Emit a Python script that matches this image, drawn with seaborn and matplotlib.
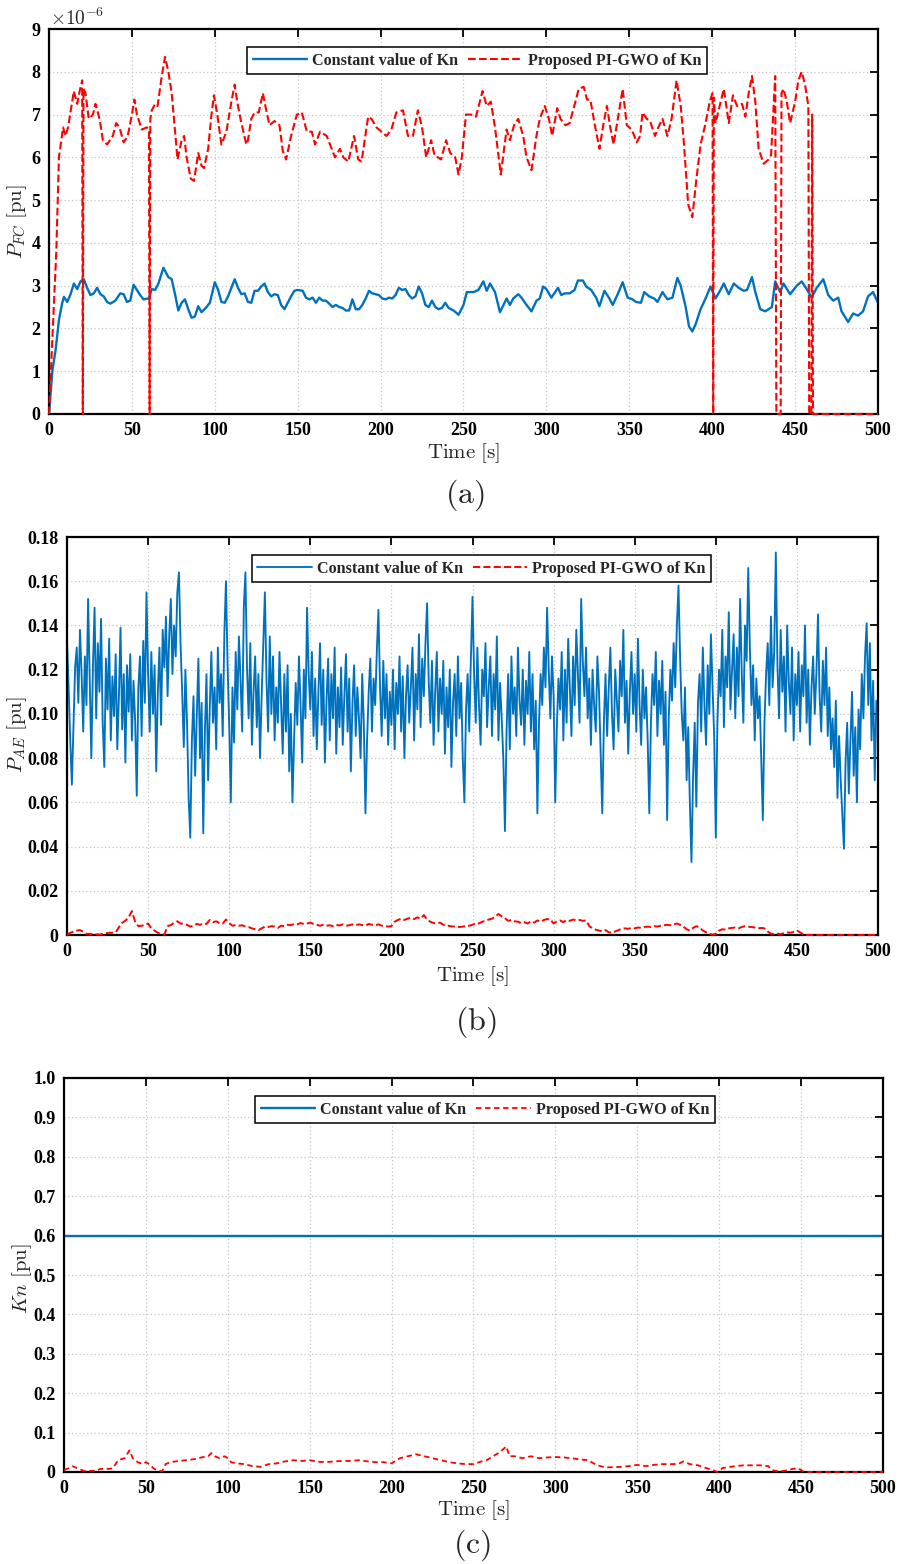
import numpy as np
import matplotlib
matplotlib.use("Agg")
import matplotlib.pyplot as plt
import seaborn as sns

# ---------------- data ----------------
x_ticks = [0, 50, 100, 150, 200, 250, 300, 350, 400, 450, 500]
legend_labels = ["Constant value of Kn", "Proposed PI-GWO of Kn"]

# (a) P_FC, values in units of 1e-6 pu
fc_const_t = [0, 1, 2, 4, 6, 8, 9, 11, 13, 15,
              17, 19, 21, 23, 25, 27, 29, 31, 33, 35,
              37, 40, 43, 45, 47, 49, 51, 53, 55, 57,
              60, 62, 64, 66, 69, 72, 74, 76, 78, 80,
              82, 84, 86, 88, 90, 92, 95, 97, 100, 102,
              104, 106, 108, 110, 112, 114, 116, 118, 120, 122,
              124, 126, 128, 130, 132, 134, 136, 138, 140, 142,
              144, 146, 148, 150, 153, 155, 157, 159, 161, 163,
              165, 167, 169, 171, 173, 175, 177, 179, 181, 183,
              185, 187, 189, 191, 193, 195, 197, 199, 201, 203,
              205, 207, 209, 211, 213, 215, 217, 219, 221, 223,
              225, 227, 229, 231, 233, 235, 237, 239, 241, 244,
              247, 250, 252, 256, 259, 262, 264, 266, 269, 272,
              276, 278, 280, 283, 285, 288, 291, 294, 296, 298,
              300, 303, 307, 309, 311, 314, 317, 319, 322, 324,
              327, 330, 332, 335, 338, 340, 343, 346, 349, 352,
              354, 357, 359, 362, 365, 367, 370, 373, 376, 379,
              381, 384, 386, 388, 390, 393, 396, 399, 402, 405,
              407, 410, 413, 416, 419, 421, 424, 426, 429, 432,
              436, 438, 441, 443, 447, 451, 454, 457, 460, 463,
              467, 470, 473, 476, 478, 482, 485, 488, 491, 494,
              497, 500]
fc_const_v = [0, 0.5, 1.0, 1.5, 2.2, 2.6, 2.74, 2.62, 2.8, 3.05,
              2.92, 3.1, 3.15, 2.95, 2.78, 2.82, 2.95, 2.8, 2.75, 2.62,
              2.58, 2.65, 2.82, 2.8, 2.62, 2.65, 3.02, 2.9, 2.78, 2.68,
              2.7, 2.92, 2.9, 3.05, 3.42, 3.2, 3.15, 2.8, 2.42, 2.6,
              2.68, 2.45, 2.25, 2.28, 2.52, 2.38, 2.5, 2.6, 3.08, 2.9,
              2.62, 2.6, 2.75, 2.95, 3.15, 2.95, 2.8, 2.82, 2.62, 2.6,
              2.88, 2.88, 2.98, 3.05, 2.85, 2.75, 2.8, 2.78, 2.55, 2.45,
              2.6, 2.75, 2.88, 2.9, 2.88, 2.72, 2.68, 2.72, 2.6, 2.72,
              2.65, 2.65, 2.58, 2.5, 2.55, 2.5, 2.48, 2.42, 2.42, 2.68,
              2.45, 2.45, 2.55, 2.7, 2.88, 2.82, 2.8, 2.78, 2.7, 2.68,
              2.72, 2.7, 2.78, 2.95, 2.9, 2.92, 2.78, 2.7, 2.75, 2.98,
              2.82, 2.55, 2.5, 2.65, 2.5, 2.45, 2.48, 2.6, 2.48, 2.42,
              2.32, 2.55, 2.85, 2.85, 2.9, 3.1, 2.88, 3.05, 2.85, 2.38,
              2.7, 2.55, 2.7, 2.8, 2.72, 2.55, 2.4, 2.65, 2.7, 2.98,
              2.92, 2.72, 2.95, 2.78, 2.82, 2.82, 2.9, 3.12, 3.12, 2.98,
              2.9, 2.72, 2.52, 2.88, 2.7, 2.55, 2.8, 3.08, 2.72, 2.68,
              2.62, 2.6, 2.85, 2.75, 2.7, 2.62, 2.85, 2.68, 2.72, 3.18,
              3.0, 2.5, 2.05, 1.93, 2.1, 2.45, 2.7, 2.98, 2.7, 2.9,
              3.05, 2.8, 3.05, 2.95, 2.88, 2.9, 3.2, 2.85, 2.45, 2.4,
              2.5, 3.1, 2.85, 3.05, 2.8, 3.0, 3.1, 2.92, 2.72, 2.95,
              3.15, 2.78, 2.65, 2.72, 2.4, 2.15, 2.35, 2.3, 2.4, 2.75,
              2.85, 2.6]

fc_pigwo_t = [0, 4.4, 6, 8.5, 10, 11.5, 15, 17, 18.5, 20,
              20.4, 20.8, 22, 24, 26.5, 28, 30.5, 32.5, 35, 38.5,
              40.5, 42.5, 45, 47.5, 50, 51.5, 53, 56, 59, 60.3,
              60.7, 61.1, 62, 64, 65.5, 68, 70, 72, 74, 76,
              77.5, 80, 81.5, 83, 85.5, 87.5, 90, 92, 93.5, 96,
              98, 99.5, 101.5, 104, 107, 110, 112, 113.5, 115.5, 119,
              120, 122, 124, 126.5, 129, 131, 133, 136, 139, 141,
              143, 146, 149.5, 152.5, 155.5, 158.5, 160.5, 163.5, 167.5, 170.5,
              172.5, 175.5, 177.5, 180.5, 184, 186.5, 188.5, 192.5, 194.5, 197.5,
              200.5, 203.5, 206.5, 209.5, 213.5, 216.5, 219.5, 222.5, 225, 227.5,
              230.5, 232.5, 236.5, 239.5, 242, 245, 247, 249, 251.5, 254.5,
              257.5, 261.5, 264, 266.5, 269, 272.5, 276, 278, 280.5, 283,
              286, 288, 291, 294, 296, 299, 301.5, 303.5, 306.5, 308.5,
              311.5, 314, 317.5, 319.5, 322.5, 324.5, 326.5, 329, 332, 334.5,
              336.5, 338.5, 340.5, 343.5, 346, 348.5, 351.5, 354.5, 356.5, 358,
              360.5, 362.5, 365.5, 367.5, 370, 373, 375.5, 378.5, 381, 383,
              385.5, 388, 390.5, 393, 396, 398.5, 400.2, 400.6, 401, 402,
              404.5, 407, 410, 412.5, 415, 418, 420, 422, 424, 426,
              428, 431, 434, 435.5, 438, 438.7, 441.3, 441.8, 443, 445,
              447, 450, 452, 454, 456, 458, 458.5, 459.8, 460.3, 460.8,
              500]
fc_pigwo_v = [0, 3.8, 6.0, 6.7, 6.5, 6.7, 7.55, 7.25, 7.55, 7.8,
              0, 7.6, 7.5, 6.9, 7.0, 7.25, 6.9, 6.4, 6.3, 6.5,
              6.8, 6.7, 6.35, 6.5, 7.0, 7.35, 7.0, 6.65, 6.7, 6.65,
              0, 6.9, 7.1, 7.25, 7.2, 7.9, 8.35, 8.0, 7.5, 6.6,
              5.95, 6.4, 6.5, 6.0, 5.5, 5.45, 6.1, 5.8, 5.75, 6.2,
              7.0, 7.45, 7.0, 6.3, 6.6, 7.3, 7.7, 7.3, 6.9, 6.3,
              6.4, 6.9, 7.05, 7.05, 7.5, 7.1, 6.75, 6.85, 6.75, 6.15,
              5.95, 6.5, 7.0, 7.05, 6.6, 6.6, 6.3, 6.6, 6.5, 6.2,
              6.0, 6.2, 6.0, 5.9, 6.5, 5.95, 5.9, 6.95, 6.9, 6.7,
              6.6, 6.5, 6.65, 7.05, 7.1, 6.5, 6.5, 7.1, 6.7, 6.0,
              6.4, 6.05, 5.95, 6.4, 6.1, 6.0, 5.6, 6.0, 7.0, 7.0,
              6.95, 7.55, 7.2, 7.3, 6.7, 5.6, 6.65, 6.4, 6.75, 6.9,
              6.5, 6.0, 5.7, 6.5, 6.9, 7.2, 6.9, 6.5, 7.15, 6.9,
              6.75, 6.8, 7.3, 7.6, 7.65, 7.35, 7.35, 6.8, 6.2, 6.8,
              7.2, 6.7, 6.3, 7.0, 7.6, 6.75, 6.65, 6.35, 6.5, 7.05,
              6.9, 6.85, 6.5, 6.7, 6.9, 6.5, 6.9, 7.8, 7.2, 6.3,
              4.9, 4.6, 5.5, 6.3, 6.8, 7.3, 7.5, 0, 7.4, 6.8,
              7.2, 7.6, 6.8, 7.45, 7.2, 7.25, 6.95, 7.5, 7.9, 7.3,
              6.2, 5.85, 5.95, 6.05, 7.9, 0, 0, 7.5, 7.6, 7.3,
              6.8, 7.3, 7.8, 8.0, 7.7, 7.2, 0, 0, 7.0, 0,
              0]

# (b) P_AE, 1-s samples, values in units of 1e-3 pu
pae_const = [133, 112, 88, 68, 95, 121, 130, 105, 138, 118,
             92, 126, 104, 152, 115, 80, 122, 148, 98, 132,
             110, 143, 96, 76, 125, 102, 134, 88, 117, 99,
             127, 84, 108, 139, 93, 118, 78, 122, 101, 127,
             88, 115, 97, 63, 112, 126, 90, 133, 105, 155,
             118, 92, 128, 100, 122, 74, 110, 130, 95, 138,
             121, 144, 108, 135, 152, 118, 140, 126, 155, 164,
             132, 110, 85, 120, 96, 62, 44, 88, 108, 72,
             98, 125, 80, 105, 46, 92, 118, 70, 102, 128,
             96, 112, 84, 130, 105, 118, 90, 136, 160, 122,
             95, 60, 112, 87, 128, 102, 135, 115, 92, 148,
             164, 120, 98, 132, 86, 110, 126, 94, 118, 80,
             108, 132, 155, 115, 92, 135, 100, 126, 88, 112,
             96, 128, 104, 82, 118, 92, 122, 74, 100, 60,
             88, 114, 95, 126, 104, 78, 120, 98, 148, 118,
             102, 128, 90, 116, 84, 110, 132, 95, 120, 78,
             106, 125, 88, 118, 98, 130, 82, 112, 94, 121,
             86, 108, 127, 92, 116, 74, 105, 122, 90, 112,
             98, 80, 118, 95, 55, 88, 110, 125, 92, 116,
             104, 128, 147, 112, 90, 124, 98, 118, 86, 110,
             95, 120, 84, 114, 100, 126, 92, 117, 80, 108,
             122, 96, 112, 130, 88, 118, 102, 136, 94, 125,
             108, 132, 150, 115, 96, 124, 86, 110, 128, 92,
             116, 100, 124, 82, 112, 94, 120, 76, 105, 118,
             90, 126, 98, 114, 80, 60, 102, 118, 92, 125,
             153, 118, 96, 130, 104, 86, 120, 108, 132, 94,
             112, 126, 90, 118, 102, 135, 88, 114, 98, 80,
             47, 92, 118, 84, 126, 100, 112, 90, 130, 106,
             95, 120, 86, 115, 100, 128, 92, 118, 84, 106,
             55, 96, 118, 104, 130, 112, 148, 120, 98, 126,
             108, 60, 94, 116, 102, 128, 88, 120, 96, 134,
             112, 90, 126, 104, 138, 118, 96, 152, 124, 108,
             130, 98, 116, 86, 120, 104, 92, 126, 110, 82,
             55, 96, 118, 90, 112, 130, 100, 84, 120, 106,
             92, 124, 108, 138, 96, 115, 82, 110, 128, 100,
             118, 92, 134, 104, 86, 120, 98, 112, 88, 55,
             96, 118, 104, 128, 90, 115, 100, 124, 86, 110,
             52, 98, 120, 106, 132, 112, 140, 158, 125, 100,
             88, 112, 70, 94, 60, 33, 72, 96, 58, 105,
             118, 92, 130, 104, 86, 122, 100, 136, 112, 90,
             44, 96, 120, 108, 138, 94, 126, 112, 146, 102,
             120, 136, 98, 130, 108, 152, 118, 96, 140, 124,
             166, 130, 104, 122, 88, 116, 98, 108, 80, 52,
             96, 118, 132, 104, 144, 112, 128, 173, 122, 98,
             138, 110, 126, 92, 140, 115, 100, 130, 88, 118,
             104, 128, 92, 122, 108, 140, 96, 120, 86, 112,
             126, 100, 118, 145, 108, 92, 124, 104, 130, 90,
             112, 84, 98, 76, 106, 62, 90, 70, 54, 39,
             78, 96, 64, 88, 110, 72, 94, 60, 102, 84,
             118, 98, 126, 141, 104, 132, 88, 115, 70, 106,
             98]

# (b) P_AE PI-GWO, 2-s samples, units of 1e-3 pu
pae_pigwo = [0, 1.0, 1.5, 2.0, 2.2, 1.5, 0.5, 0.5, 0.3, 0.3,
             0.2, 0.5, 0.8, 1.0, 1.0, 1.2, 3.5, 5.5, 6.5, 8.0,
             10.8, 6.0, 4.0, 4.2, 4.5, 5.2, 3.0, 2.0, 1.0, 0.5,
             0.2, 4.0, 4.5, 5.5, 6.2, 5.2, 5.0, 4.6, 3.8, 4.2,
             5.0, 4.6, 5.2, 5.0, 6.8, 5.8, 6.2, 5.4, 5.2, 7.0,
             5.4, 4.2, 4.5, 4.2, 4.4, 3.8, 3.6, 3.0, 2.6, 2.2,
             3.0, 3.8, 3.6, 4.0, 3.8, 3.2, 4.2, 4.0, 4.6, 4.4,
             5.0, 4.8, 5.4, 5.0, 5.2, 5.6, 5.0, 4.6, 4.2, 4.6,
             4.2, 4.4, 4.0, 4.6, 4.3, 4.8, 4.2, 4.4, 4.8, 4.4,
             4.8, 4.5, 4.2, 5.0, 4.6, 4.4, 4.8, 4.2, 4.0, 3.8,
             4.0, 6.0, 6.8, 7.4, 6.8, 7.4, 7.8, 7.2, 8.0, 7.4,
             9.0, 7.0, 6.0, 5.4, 5.2, 5.6, 4.6, 4.4, 4.0, 3.8,
             4.0, 3.6, 3.8, 4.0, 4.2, 4.6, 5.4, 5.2, 6.0, 6.4,
             7.0, 7.4, 8.2, 9.5, 8.4, 7.6, 6.4, 6.8, 6.2, 6.0,
             5.4, 5.8, 5.2, 6.2, 5.6, 6.6, 6.0, 6.8, 7.2, 7.0,
             5.2, 6.2, 6.6, 5.8, 6.8, 6.4, 7.0, 6.6, 6.8, 6.4,
             6.6, 4.0, 3.0, 2.4, 2.0, 1.6, 2.2, 1.2, 1.0, 1.6,
             2.2, 2.8, 3.0, 2.8, 3.2, 3.0, 3.4, 3.2, 3.6, 3.8,
             3.6, 4.0, 3.8, 4.2, 4.4, 4.6, 4.4, 4.8, 5.2, 4.6,
             3.8, 2.6, 2.0, 3.2, 4.0, 3.4, 2.0, 1.2, 0.5, 0.2,
             0.5, 2.0, 2.6, 2.4, 3.0, 3.2, 3.4, 3.0, 3.6, 4.0,
             3.8, 3.6, 3.4, 3.0, 3.2, 3.0, 1.6, 0.6, 0.4, 0.6,
             0.4, 0.8, 1.2, 1.0, 1.4, 2.0, 1.2, 0.2, 0.0, 0.0,
             0, 0, 0, 0, 0, 0, 0, 0, 0, 0,
             0, 0, 0, 0, 0, 0, 0, 0, 0, 0,
             0]

# (c) Kn
kn_const = 0.6
kn_t = [0, 3, 5, 8, 12, 16, 20, 22, 28, 30,
        33, 37, 40, 42, 45, 48, 50, 52, 55, 58,
        60, 62, 65, 70, 75, 80, 85, 88, 90, 92,
        95, 98, 100, 102, 105, 110, 115, 120, 125, 130,
        135, 140, 145, 150, 155, 160, 165, 170, 175, 180,
        185, 190, 195, 200, 205, 210, 215, 220, 225, 230,
        235, 240, 245, 250, 255, 258, 262, 266, 270, 272,
        275, 280, 285, 290, 295, 300, 305, 310, 315, 320,
        325, 330, 335, 340, 345, 350, 355, 360, 365, 370,
        375, 378, 382, 387, 392, 396, 399, 402, 405, 410,
        415, 420, 425, 430, 432, 436, 440, 445, 448, 451,
        455, 460, 500]
kn_v = [0.005, 0.010, 0.015, 0.010, 0.003, 0.003, 0.003, 0.008, 0.008, 0.010,
        0.030, 0.035, 0.055, 0.035, 0.025, 0.020, 0.025, 0.020, 0.008, 0.003,
        0.002, 0.020, 0.025, 0.028, 0.030, 0.033, 0.038, 0.040, 0.048, 0.040,
        0.035, 0.040, 0.035, 0.025, 0.022, 0.020, 0.015, 0.013, 0.020, 0.022,
        0.027, 0.030, 0.028, 0.030, 0.026, 0.025, 0.027, 0.028, 0.028, 0.030,
        0.027, 0.025, 0.025, 0.022, 0.035, 0.040, 0.045, 0.040, 0.035, 0.030,
        0.025, 0.022, 0.020, 0.020, 0.027, 0.030, 0.040, 0.050, 0.065, 0.040,
        0.040, 0.035, 0.040, 0.035, 0.037, 0.038, 0.037, 0.035, 0.032, 0.030,
        0.018, 0.012, 0.012, 0.013, 0.015, 0.018, 0.015, 0.018, 0.020, 0.020,
        0.020, 0.027, 0.020, 0.017, 0.010, 0.005, 0.000, 0.010, 0.012, 0.015,
        0.017, 0.017, 0.017, 0.015, 0.005, 0.002, 0.003, 0.008, 0.010, 0.002,
        0.000, 0.000, 0.000]

# ---------------- style ----------------
sns.set_theme(style="white")
plt.rcParams['font.family'] = ['Liberation Serif', 'DejaVu Serif']
plt.rcParams['mathtext.fontset'] = 'cm'
plt.rcParams['axes.unicode_minus'] = False

BLUE = '#0072BD'
RED = '#FF0000'
TICK_FS = 13
LABEL_FS = 15

fig = plt.figure(figsize=(9.03, 15.64), dpi=100)
W, H = 903.0, 1564.0


def make_axes(l, t, r, b):
    return fig.add_axes([l / W, 1 - b / H, (r - l) / W, (b - t) / H])


def style(ax, yticks, ylabels, ylim):
    ax.set_xlim(0, 500)
    ax.set_ylim(*ylim)
    ax.set_xticks(x_ticks)
    ax.set_xticklabels([str(v) for v in x_ticks])
    ax.set_yticks(yticks)
    ax.set_yticklabels(ylabels)
    ax.tick_params(direction='in', length=6, width=1.3, top=True, right=True,
                   labelsize=TICK_FS, pad=6, colors='black')
    for lab in ax.get_xticklabels() + ax.get_yticklabels():
        lab.set_fontweight('bold')
    ax.grid(True, linestyle=(0, (1, 2)), color='#c4c4c4', linewidth=0.9)
    for s in ax.spines.values():
        s.set_linewidth(1.6)
        s.set_color('black')
    ax.set_xlabel(r'$\mathrm{Time\ [s]}$', fontsize=LABEL_FS)


def legend(ax, cx, top):
    leg = ax.legend(loc='upper center', bbox_to_anchor=(cx, top), ncol=2,
                    frameon=True, fancybox=False, edgecolor='black', framealpha=1,
                    prop={'family': 'Liberation Serif', 'weight': 'bold', 'size': 11.6},
                    handlelength=3.4, columnspacing=0.6, handletextpad=0.3,
                    borderpad=0.35, borderaxespad=0)
    leg.get_frame().set_linewidth(1.1)
    leg.set_zorder(5)


def red_on_top(ax):
    # dashed red series sits above the axis frame, as in the original
    ax.lines[-1].set_zorder(3)
    ax.lines[-1].set_clip_on(False)


# ---------- (a) ----------
ax = make_axes(49, 29, 878, 414)
sns.lineplot(x=fc_const_t, y=fc_const_v, ax=ax, color=BLUE, lw=1.7,
             estimator=None, sort=False, label=legend_labels[0])
sns.lineplot(x=fc_pigwo_t, y=fc_pigwo_v, ax=ax, color=RED, lw=1.5, linestyle='--',
             estimator=None, sort=False, label=legend_labels[1])
red_on_top(ax)
style(ax, list(range(0, 10)), [str(v) for v in range(0, 10)], (0, 9))
ax.set_ylabel(r'$P_{FC}\ [\mathrm{pu}]$', fontsize=LABEL_FS)
ax.yaxis.set_label_coords((17 - 49) / 829, 0.5)
ax.xaxis.set_label_coords(0.5, (414 - 453) / 385)
ax.yaxis.label.set_va('center')
ax.xaxis.label.set_va('center')
legend(ax, 0.516, 0.953)
fig.text(50 / W, 1 - 25 / H, r'$\times10^{-6}$', fontsize=14, ha='left', va='baseline')

# ---------- (b) ----------
ax = make_axes(67, 537, 878, 935)
t_b = np.arange(0, 501)
t_b2 = np.arange(0, 501, 2)
sns.lineplot(x=t_b, y=np.array(pae_const) / 1000.0, ax=ax, color=BLUE, lw=1.35,
             estimator=None, sort=False, label=legend_labels[0])
sns.lineplot(x=t_b2, y=np.array(pae_pigwo) / 1000.0, ax=ax, color=RED, lw=1.4, linestyle='--',
             estimator=None, sort=False, label=legend_labels[1])
red_on_top(ax)
yb = [0, 0.02, 0.04, 0.06, 0.08, 0.10, 0.12, 0.14, 0.16, 0.18]
style(ax, yb, ['0'] + [f'{v:.2f}' for v in yb[1:]], (0, 0.18))
ax.set_ylabel(r'$P_{AE}\ [\mathrm{pu}]$', fontsize=LABEL_FS)
ax.yaxis.set_label_coords((17 - 67) / 811, 0.503)
ax.xaxis.set_label_coords(0.5, (935 - 976) / 398)
ax.yaxis.label.set_va('center')
ax.xaxis.label.set_va('center')
legend(ax, 0.511, 0.955)

# ---------- (c) ----------
ax = make_axes(64, 1078, 883, 1472)
sns.lineplot(x=[0, 500], y=[kn_const, kn_const], ax=ax, color=BLUE, lw=1.7,
             estimator=None, sort=False, label=legend_labels[0])
sns.lineplot(x=kn_t, y=kn_v, ax=ax, color=RED, lw=1.3, linestyle=(0, (3, 2)),
             estimator=None, sort=False, label=legend_labels[1])
red_on_top(ax)
yc = [round(0.1 * i, 1) for i in range(11)]
style(ax, yc, ['0'] + [f'{v:.1f}' for v in yc[1:]], (0, 1))
ax.set_ylabel(r'$Kn\ [\mathrm{pu}]$', fontsize=LABEL_FS)
ax.yaxis.set_label_coords((22 - 64) / 819, 0.49)
ax.xaxis.set_label_coords(0.5, (1472 - 1510) / 394)
ax.yaxis.label.set_va('center')
ax.xaxis.label.set_va('center')
legend(ax, 0.514, 0.954)

# panel letters
for txt, x, y in [('(a)', 465, 495), ('(b)', 476, 1022), ('(c)', 472, 1545)]:
    fig.text(x / W, 1 - y / H, r'$\mathrm{' + txt + '}$', fontsize=23, ha='center', va='center')

fig.savefig('out.png', dpi=100)
